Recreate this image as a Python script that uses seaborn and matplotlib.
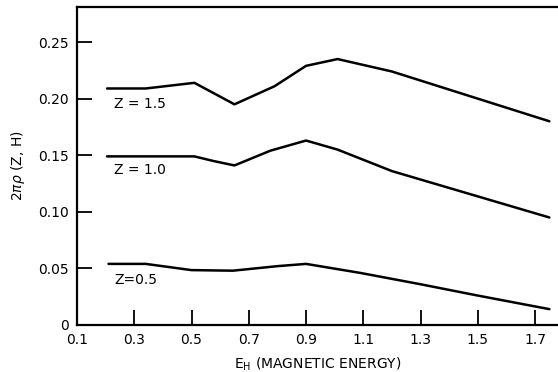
import pandas as pd
import seaborn as sns
import matplotlib.pyplot as plt

# valori
x_z15 = [0.205, 0.34, 0.51, 0.65, 0.79, 0.90, 1.01, 1.20, 1.75]
y_z15 = [0.209, 0.209, 0.214, 0.195, 0.211, 0.229, 0.235, 0.224, 0.180]

x_z10 = [0.205, 0.51, 0.575, 0.65, 0.775, 0.90, 1.01, 1.20, 1.75]
y_z10 = [0.149, 0.149, 0.145, 0.141, 0.154, 0.163, 0.155, 0.136, 0.095]

x_z05 = [0.21, 0.34, 0.50, 0.645, 0.80, 0.90, 1.09, 1.30, 1.50, 1.75]
y_z05 = [0.054, 0.054, 0.0485, 0.048, 0.052, 0.054, 0.046, 0.036, 0.026, 0.014]

labels = ['Z = 1.5', 'Z = 1.0', 'Z=0.5']
label_y = [0.195, 0.137, 0.040]
x_ticks = [0.1, 0.3, 0.5, 0.7, 0.9, 1.1, 1.3, 1.5, 1.7]
y_ticks = [0, 0.05, 0.10, 0.15, 0.20, 0.25]
y_tick_labels = ['0', '0.05', '0.10', '0.15', '0.20', '0.25']

df = pd.concat([
    pd.DataFrame({'E': x_z15, 'rho': y_z15, 'Z': labels[0]}),
    pd.DataFrame({'E': x_z10, 'rho': y_z10, 'Z': labels[1]}),
    pd.DataFrame({'E': x_z05, 'rho': y_z05, 'Z': labels[2]}),
])

sns.set_style('white')
plt.rcParams['font.family'] = ['DejaVu Sans']
plt.rcParams['text.color'] = 'black'
plt.rcParams['axes.labelcolor'] = 'black'
plt.rcParams['xtick.color'] = 'black'
plt.rcParams['ytick.color'] = 'black'

fig = plt.figure(figsize=(5.58, 3.72), dpi=100)
ax = fig.add_axes([77 / 558, 47 / 372, 481 / 558, 318 / 372])

sns.lineplot(data=df, x='E', y='rho', units='Z', estimator=None, sort=False,
             color='black', linewidth=1.8, ax=ax, legend=False)

for lab, yy in zip(labels, label_y):
    ax.text(0.23, yy, lab, fontsize=10, va='center', ha='left', color='black')

ax.set_xlim(0.1, 1.78)
ax.set_ylim(0, 0.281)
ax.set_xticks(x_ticks)
ax.set_xticklabels([str(t) for t in x_ticks], fontsize=10)
ax.set_yticks(y_ticks)
ax.set_yticklabels(y_tick_labels, fontsize=10)
ax.tick_params(bottom=True, left=True, direction='in', length=11, width=1.3,
               color='black', labelcolor='black', pad=6)

for s in ['left', 'bottom', 'top']:
    ax.spines[s].set_linewidth(1.6)
    ax.spines[s].set_color('black')
ax.spines['right'].set_visible(False)

ax.set_xlabel(r'E$_\mathrm{H}$ (MAGNETIC ENERGY)', fontsize=10, labelpad=6)
ax.set_ylabel(r'2$\pi\rho$ (Z, H)', fontsize=10, labelpad=8)

fig.savefig('out.png', dpi=100)
